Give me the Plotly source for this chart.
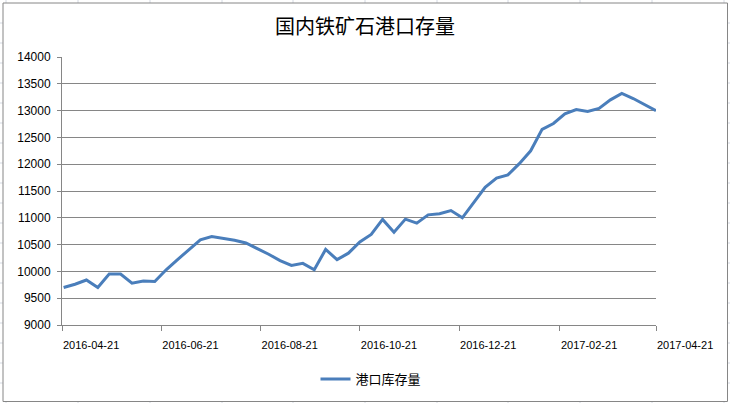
import plotly.graph_objects as go

# weekly port inventory readings (10k tonnes), Fridays
dates = [
    "2016-04-22", "2016-04-29", "2016-05-06", "2016-05-13", "2016-05-20", "2016-05-27",
    "2016-06-03", "2016-06-10", "2016-06-17", "2016-06-24", "2016-07-01", "2016-07-08",
    "2016-07-15", "2016-07-22", "2016-07-29", "2016-08-05", "2016-08-12", "2016-08-19",
    "2016-08-26", "2016-09-02", "2016-09-09", "2016-09-16", "2016-09-23", "2016-09-30",
    "2016-10-07", "2016-10-14", "2016-10-21", "2016-10-28", "2016-11-04", "2016-11-11",
    "2016-11-18", "2016-11-25", "2016-12-02", "2016-12-09", "2016-12-16", "2016-12-23",
    "2016-12-30", "2017-01-06", "2017-01-13", "2017-01-20", "2017-01-27", "2017-02-03",
    "2017-02-10", "2017-02-17", "2017-02-24", "2017-03-03", "2017-03-10", "2017-03-17",
    "2017-03-24", "2017-03-31", "2017-04-07", "2017-04-14", "2017-04-21",
]
stock = [
    9700, 9760, 9840, 9700, 9950, 9950,
    9780, 9820, 9810, 10030, 10220, 10410,
    10590, 10650, 10620, 10580, 10530, 10430,
    10320, 10200, 10110, 10150, 10030, 10410,
    10220, 10340, 10550, 10690, 10970, 10730,
    10975, 10900, 11055, 11075, 11135, 11000,
    11290, 11570, 11740, 11800, 12010, 12250,
    12650, 12760, 12940, 13020, 12985, 13040,
    13200, 13320, 13225, 13110, 13000,
]
x_ticks = ["2016-04-21", "2016-06-21", "2016-08-21", "2016-10-21",
           "2016-12-21", "2017-02-21", "2017-04-21"]
y_ticks = list(range(9000, 14001, 500))

W, H = 730, 403
L, R, T, B = 62, 74, 57, 78
pw, ph = W - L - R, H - T - B


def px_x(p):
    return (p - L) / pw


def px_y(p):
    return (H - B - p) / ph


grey = "#868686"

fig = go.Figure()
fig.add_trace(go.Scatter(
    x=dates, y=stock, mode="lines", name="港口库存量",
    line=dict(color="#4A7EBB", width=3),
))

shapes = []
# spreadsheet cell lines peeking out around the chart
cell = "#D4D9E2"
for cx in [6, 78, 150, 222, 293, 365, 437, 508, 580, 652, 724]:
    shapes.append(dict(type="line", xref="paper", yref="paper",
                       x0=px_x(cx), x1=px_x(cx), y0=px_y(0), y1=px_y(3),
                       line=dict(color=cell, width=1)))
    shapes.append(dict(type="line", xref="paper", yref="paper",
                       x0=px_x(cx), x1=px_x(cx), y0=px_y(401), y1=px_y(403),
                       line=dict(color=cell, width=1)))
for cy in range(23, 403, 20):
    shapes.append(dict(type="line", xref="paper", yref="paper",
                       x0=px_x(0), x1=px_x(3), y0=px_y(cy), y1=px_y(cy),
                       line=dict(color=cell, width=1)))
    shapes.append(dict(type="line", xref="paper", yref="paper",
                       x0=px_x(727.5), x1=px_x(730), y0=px_y(cy), y1=px_y(cy),
                       line=dict(color=cell, width=1)))
# chart border
shapes.append(dict(type="rect", xref="paper", yref="paper",
                   x0=px_x(3), x1=px_x(727.5), y0=px_y(401.5), y1=px_y(3),
                   line=dict(color=grey, width=1)))

fig.update_layout(
    width=W, height=H,
    margin=dict(l=L, r=R, t=T, b=B, autoexpand=False),
    paper_bgcolor="white", plot_bgcolor="white",
    title=dict(text="国内铁矿石港口存量", x=0.5, xanchor="center",
               y=1 - 27 / H, yanchor="middle",
               font=dict(family="Noto Sans CJK SC", size=20, color="black")),
    font=dict(family="Liberation Sans", size=11, color="black"),
    showlegend=True,
    legend=dict(orientation="h", x=px_x(371), xanchor="center",
                y=px_y(379), yanchor="middle",
                font=dict(family="Noto Sans CJK SC", size=13, color="black")),
    shapes=shapes,
)
fig.update_xaxes(
    type="date", range=["2016-04-21", "2017-04-21"],
    tickvals=x_ticks, ticktext=x_ticks,
    ticks="outside", ticklen=5, tickcolor=grey,
    ticklabelposition="outside right", ticklabelstandoff=10,
    showline=True, linecolor=grey, showgrid=False, zeroline=False,
    tickfont=dict(size=11), automargin=False,
)
fig.update_yaxes(
    range=[9000, 14000], tickvals=y_ticks, ticktext=[str(v) for v in y_ticks],
    ticks="outside", ticklen=4, tickcolor=grey, ticklabelstandoff=4,
    showline=True, linecolor=grey, gridcolor=grey, gridwidth=1,
    zeroline=False, tickfont=dict(size=12), automargin=False,
)

# drop the page's default body margin so the figure sits at the window corner
fig.write_html("out.html", config={"displayModeBar": False},
               post_script="document.body.style.margin = '0';")
